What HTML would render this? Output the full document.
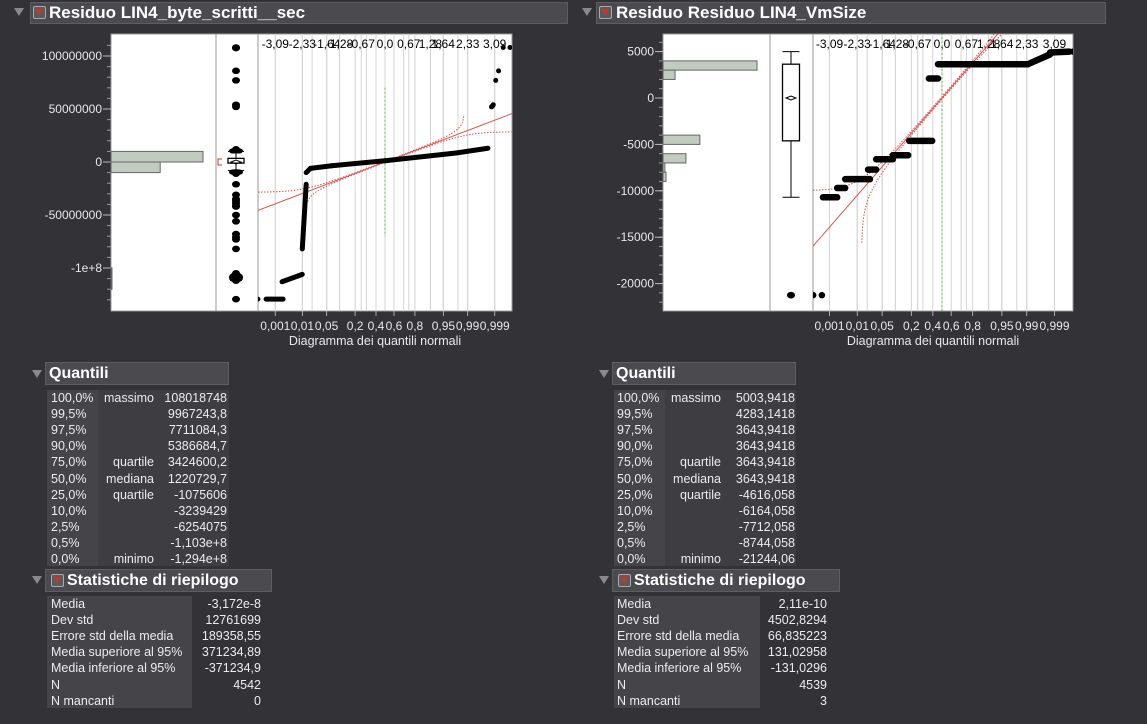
<!DOCTYPE html>
<html><head><meta charset="utf-8">
<style>
body{margin:0;width:1147px;height:724px;background:#333236;font-family:"Liberation Sans",sans-serif;color:#ececec;position:relative;overflow:hidden}
.hdr{position:absolute;background:#4b4a4f;border:1px solid #5e5d62;box-sizing:border-box;font-weight:bold;color:#fff;white-space:nowrap}
.tri{position:absolute;width:0;height:0;border-left:5px solid transparent;border-right:5px solid transparent;border-top:8px solid #8a898e}
.ric{position:absolute;width:13px;height:13px;background:#5b5a5f;border:1px solid #aaa;border-radius:2px;box-sizing:border-box}
.ric:after{content:"";position:absolute;left:1px;top:2px;border-left:4.5px solid transparent;border-right:4.5px solid transparent;border-top:7px solid #c0392b}
.box{position:absolute;background:#3e3d42}
.t{position:absolute;font-size:12.5px;white-space:nowrap;line-height:16px}
.r{text-align:right}
</style></head><body>
<div class="tri" style="left:14px;top:8px"></div>
<div class="hdr" style="left:30px;top:2px;width:538px;height:22px;font-size:17px;line-height:20px;padding-left:18px">Residuo LIN4_byte_scritti__sec</div>
<div class="ric" style="left:33px;top:6px"></div>
<div class="tri" style="left:582px;top:8px"></div>
<div class="hdr" style="left:596px;top:2px;width:510px;height:22px;font-size:17px;line-height:20px;padding-left:19px">Residuo Residuo LIN4_VmSize</div>
<div class="ric" style="left:599px;top:6px"></div>

<svg id="chart" width="1147" height="360" style="position:absolute;left:0;top:0"></svg>

<div class="tri" style="left:32px;top:370px"></div>
<div class="hdr" style="left:45px;top:362px;width:184px;height:23px;font-size:16px;line-height:21px;padding-left:3px">Quantili</div>
<div class="box" style="left:47px;top:390px;width:182px;height:176px"></div>
<div class="box" style="left:47px;top:390px;width:51px;height:176px;background:#454449"></div>
<div id="qL"></div>
<div class="tri" style="left:32px;top:576px"></div>
<div class="hdr" style="left:45px;top:569px;width:227px;height:23px;font-size:16px;line-height:21px;padding-left:21px">Statistiche di riepilogo</div>
<div class="ric" style="left:51px;top:574px"></div>
<div class="box" style="left:47px;top:596px;width:145px;height:112px;background:#454449"></div>
<div id="sL"></div>

<div class="tri" style="left:599px;top:370px"></div>
<div class="hdr" style="left:612px;top:362px;width:184px;height:23px;font-size:16px;line-height:21px;padding-left:3px">Quantili</div>
<div class="box" style="left:614px;top:390px;width:182px;height:176px"></div>
<div class="box" style="left:614px;top:390px;width:51px;height:176px;background:#454449"></div>
<div id="qR"></div>
<div class="tri" style="left:599px;top:576px"></div>
<div class="hdr" style="left:612px;top:569px;width:228px;height:23px;font-size:16px;line-height:21px;padding-left:21px">Statistiche di riepilogo</div>
<div class="ric" style="left:618px;top:574px"></div>
<div class="box" style="left:614px;top:596px;width:146px;height:112px;background:#454449"></div>
<div id="sR"></div>

<script>
// ---------- data ----------
const qPct=["100,0%","99,5%","97,5%","90,0%","75,0%","50,0%","25,0%","10,0%","2,5%","0,5%","0,0%"];
const qLab=["massimo","","","","quartile","mediana","quartile","","","","minimo"];
const qValL=["108018748","9967243,8","7711084,3","5386684,7","3424600,2","1220729,7","-1075606","-3239429","-6254075","-1,103e+8","-1,294e+8"];
const qValR=["5003,9418","4283,1418","3643,9418","3643,9418","3643,9418","3643,9418","-4616,058","-6164,058","-7712,058","-8744,058","-21244,06"];
const sLab=["Media","Dev std","Errore std della media","Media superiore al 95%","Media inferiore al 95%","N","N mancanti"];
const sValL=["-3,172e-8","12761699","189358,55","371234,89","-371234,9","4542","0"];
const sValR=["2,11e-10","4502,8294","66,835223","131,02958","-131,0296","4539","3"];

const zTicks=[-3.09,-2.33,-1.64,-1.28,-0.67,0,0.67,1.28,1.64,2.33,3.09];
const zTickLabels=["-3,09","-2,33","-1,64","-1,28","-0,67","0,0","0,67","1,28","1,64","2,33","3,09"];
const probTicks=[0.001,0.01,0.05,0.2,0.4,0.6,0.8,0.95,0.99,0.999];
const probLabels=["0,001","0,01","0,05","0,2","0,4","0,6","0,8","0,95","0,99","0,999"];
const probGrid=[0.001,0.01,0.02,0.05,0.1,0.2,0.3,0.4,0.5,0.6,0.7,0.8,0.9,0.95,0.98,0.99,0.999];

// left chart
const L_yTicks=[100000000,50000000,0,-50000000,-100000000];
const L_yLabels=["100000000","50000000","0","-50000000","-1e+8"];
const L_binLow=[0,-10000000,-120000000];
const L_binHigh=[10000000,0,-100000000];
const L_binCount=[2900,1550,30];
const L_sd=12761699;
const L_q1=-1075606, L_q3=3424600, L_wLo=-8000000, L_wHi=10000000;
const L_outliers=[108000000,107500000,86000000,77000000,54000000,52000000,12000000,11000000,-10000000,-11000000,-21000000,-31000000,-35000000,-37000000,-39000000,-41000000,-42000000,-50000000,-56000000,-68000000,-71000000,-73000000,-82000000,-105000000,-107000000,-108000000,-110000000,-112000000,-129400000];
const L_segZ0=[-3.58,-3.35,-2.9,-2.33,-2.22,-2.1,-1.5,0,2.0,3.0,3.03,3.12,3.2,3.33,3.52];
const L_segZ1=[-3.58,-2.87,-2.33,-2.22,-2.1,-1.5,0,2.0,2.9,3.0,3.05,3.12,3.2,3.33,3.52];
const L_segV0=[-129400000,-129400000,-113000000,-82000000,-10000000,-6000000,-3500000,1200000,8500000,52000000,53000000,77000000,86000000,108000000,108000000];
const L_segV1=[-129400000,-129400000,-106000000,-21000000,-6000000,-3500000,1200000,8500000,13000000,52000000,54000000,77000000,86000000,108000000,108000000];

// right chart
const R_yTicks=[5000,0,-5000,-10000,-15000,-20000];
const R_yLabels=["5000","0","-5000","-10000","-15000","-20000"];
const R_binLow=[3000,2000,-5000,-7000,-8000,-9000];
const R_binHigh=[4000,3000,-4000,-6000,-7000,-8000];
const R_binCount=[2500,320,980,610,50,80];
const R_sd=4502.8294;
const R_q1=-4616, R_q3=3644, R_wLo=-10700, R_wHi=5004;
const R_outliers=[-21244];
const R_segZ0=[-3.54,-3.3,-3.27,-2.88,-2.66,-2.03,-1.81,-1.35,-0.9,-0.36,-0.11,2.36,2.97,3.6];
const R_segZ1=[-3.54,-3.3,-2.88,-2.66,-1.98,-1.81,-1.35,-0.93,-0.27,-0.11,2.36,2.97,3.5,3.6];
const R_segV0=[-21244,-21244,-10700,-9700,-8744,-7712,-6600,-6164,-4616,2100,3643,3643,4900,5003];
const R_segV1=[-21244,-21244,-10700,-9700,-8744,-7712,-6600,-6164,-4616,2100,3643,4700,5003,5003];

// ---------- helpers ----------
const NS="http://www.w3.org/2000/svg";
const svg=document.getElementById('chart');
function mk(tag,attrs,parent){const e=document.createElementNS(NS,tag);for(const k in attrs)e.setAttribute(k,attrs[k]);(parent||svg).appendChild(e);return e;}
function erf(x){const s=x<0?-1:1;x=Math.abs(x);const t=1/(1+0.3275911*x);const y=1-(((((1.061405429*t-1.453152027)*t)+1.421413741)*t-0.284496736)*t+0.254829592)*t*Math.exp(-x*x);return s*y;}
function Phi(z){return 0.5*(1+erf(z/Math.SQRT2));}
function invPhi(p){let lo=-8,hi=8;for(let i=0;i<60;i++){const m=(lo+hi)/2;if(Phi(m)<p)lo=m;else hi=m;}return (lo+hi)/2;}

function drawChart(c){
  const g=mk('g',{});
  
  
  const Y=v=>c.y0+(v*c.yScale);
  const X=z=>c.zx0+z*c.zs;
  mk('rect',{x:c.left,y:c.top,width:c.right-c.left,height:c.bottom-c.top,fill:'#fff',stroke:'#9a9a9a','stroke-width':1},g);
  for(let v=c.minorStart;v>=c.minorEnd;v-=c.minorStep){const y=Y(v);if(y<c.top||y>c.bottom)continue;mk('line',{x1:c.left-4,x2:c.left,y1:y,y2:y,stroke:'#999'},g);}
  c.yTicks.forEach((v,i)=>{const y=Y(v);mk('line',{x1:c.left-8,x2:c.left,y1:y,y2:y,stroke:'#bbb'},g);
    const t=mk('text',{x:c.left-9,y:y+4,'text-anchor':'end','font-size':12,fill:'#e8e8e8'},g);t.textContent=c.yLabels[i];
    });
  const hs=c.histMax/Math.max(...c.binCount);
  c.binCount.forEach((n,i)=>{const r=mk('rect',{x:c.left,y:Y(c.binHigh[i]),width:Math.max(1,n*hs),height:Y(c.binLow[i])-Y(c.binHigh[i]),fill:'#c2cbbf',stroke:'#666','stroke-width':1},g);
    });
  mk('line',{x1:c.div1,x2:c.div1,y1:c.top,y2:c.bottom,stroke:'#999'},g);
  mk('line',{x1:c.div2,x2:c.div2,y1:c.top,y2:c.bottom,stroke:'#999'},g);
  const bx=c.boxX,bw=c.boxW;
  mk('line',{x1:bx,x2:bx,y1:Y(c.wHi),y2:Y(c.q3),stroke:'#000'},g);
  mk('line',{x1:bx,x2:bx,y1:Y(c.q1),y2:Y(c.wLo),stroke:'#000'},g);
  mk('line',{x1:bx-bw/2,x2:bx+bw/2,y1:Y(c.wHi),y2:Y(c.wHi),stroke:'#000'},g);
  mk('line',{x1:bx-bw/2,x2:bx+bw/2,y1:Y(c.wLo),y2:Y(c.wLo),stroke:'#000'},g);
  const box=mk('rect',{x:bx-bw/2,y:Y(c.q3),width:bw,height:Math.max(3,Y(c.q1)-Y(c.q3)),fill:'#fff',stroke:'#000','stroke-width':1.3},g);
  
  mk('path',{d:`M${bx-5} ${Y(0)} L${bx} ${Y(0)-2} L${bx+5} ${Y(0)} L${bx} ${Y(0)+2}Z`,fill:'none',stroke:'#000'},g);
  if(c.bracket) mk('path',{d:`M${bx-14} ${Y(0)-3}h-4v6h4`,fill:'none',stroke:'#c0392b'},g);
  c.outliers.forEach(v=>{const o=mk('ellipse',{cx:bx,cy:Y(v),rx:4,ry:3.3,fill:'#000'},g);});
  if(c.cluster){mk('rect',{x:bx-7,y:Y(c.cluster[0]),width:14,height:Y(c.cluster[1])-Y(c.cluster[0]),rx:4,fill:'#000'},g);mk('rect',{x:bx-7,y:Y(c.cluster[2]),width:14,height:Y(c.cluster[3])-Y(c.cluster[2]),rx:4,fill:'#000'},g);
    mk('rect',{x:bx-7,y:Y(-1.05e8),width:14,height:Y(-1.13e8)-Y(-1.05e8),rx:4,fill:'#000'},g);}
  probGrid.forEach(p=>{const x=X(invPhi(p));mk('line',{x1:x,x2:x,y1:c.top,y2:c.bottom,stroke:'#d4d4d4'},g);});
  zTicks.forEach((z,i)=>{const x=X(z);mk('line',{x1:x,x2:x,y1:c.top,y2:c.bottom,stroke:'#d4d4d4'},g);
    const t=mk('text',{x:x,y:c.top+14,'text-anchor':'middle','font-size':12,fill:'#000'},g);t.textContent=zTickLabels[i];
    });
  probTicks.forEach((p,i)=>{const x=X(invPhi(p));mk('line',{x1:x,x2:x,y1:c.bottom,y2:c.bottom+5,stroke:'#aaa'},g);
    const t=mk('text',{x:x,y:c.bottom+19,'text-anchor':'middle','font-size':12,fill:'#e8e8e8'},g);t.textContent=probLabels[i];
    });
  const tt=mk('text',{x:(c.div2+c.right)/2-10,y:c.bottom+34,'text-anchor':'middle','font-size':12.5,fill:'#e8e8e8'},g);tt.textContent='Diagramma dei quantili normali';
  
  const cid='clip'+c.name;const cp=mk('clipPath',{id:cid},g);mk('rect',{x:c.div2,y:c.top,width:c.right-c.div2,height:c.bottom-c.top},cp);
  const pg=mk('g',{'clip-path':`url(#${cid})`},g);
  mk('line',{x1:X(0),x2:X(0),y1:Y(c.gTop),y2:Y(c.gBot),stroke:'#5bbf4a','stroke-dasharray':'2,2'},pg);
  const zmin=(c.div2-c.zx0)/c.zs,zmax=(c.right-c.zx0)/c.zs;
  mk('line',{x1:X(zmin),y1:Y(c.sd*zmin),x2:X(zmax),y2:Y(c.sd*zmax),stroke:'#d9534f','stroke-width':1},pg);
  let up='',lo='';
  for(let z=zmin;z<=zmax;z+=0.02){const p=Phi(z);
    if(p+c.d<0.99999){const v=c.sd*invPhi(p+c.d);up+=(up?'L':'M')+X(z).toFixed(1)+' '+Math.max(c.top-50,Y(v)).toFixed(1);}
    if(p-c.d>0.00001){const v=c.sd*invPhi(p-c.d);lo+=(lo?'L':'M')+X(z).toFixed(1)+' '+Math.min(c.bottom+50,Y(v)).toFixed(1);}}
  mk('path',{d:up,fill:'none',stroke:'#d9534f','stroke-dasharray':'1.5,1.5'},pg);
  mk('path',{d:lo,fill:'none',stroke:'#d9534f','stroke-dasharray':'1.5,1.5'},pg);
  c.segZ0.forEach((z0,i)=>{const l=mk('line',{x1:X(z0),y1:Y(c.segV0[i]),x2:X(c.segZ1[i]),y2:Y(c.segV1[i]),stroke:'#000','stroke-width':c.segW,'stroke-linecap':'round'},pg);
    });
}

drawChart({name:'left-chart',left:111,right:512,top:34,bottom:311,div1:216,div2:258,y0:162,yScale:-1.06e-6,
  minorStart:110000000,minorEnd:-130000000,minorStep:10000000,yTicks:L_yTicks,yLabels:L_yLabels,
  binLow:L_binLow,binHigh:L_binHigh,binCount:L_binCount,histMax:92,boxX:236,boxW:16,
  q1:L_q1,q3:L_q3,wLo:L_wLo,wHi:L_wHi,outliers:L_outliers,bracket:true,cluster:[13000000,8000000,-7000000,-12000000],
  zx0:385,zs:35.5,sd:L_sd,d:0.0129,gTop:70000000,gBot:-70000000,
  segZ0:L_segZ0,segZ1:L_segZ1,segV0:L_segV0,segV1:L_segV1,segW:5});
drawChart({name:'right-chart',left:663,right:1073,top:34,bottom:311,div1:770,div2:813,y0:98,yScale:-0.00928,
  minorStart:7000,minorEnd:-23000,minorStep:1000,yTicks:R_yTicks,yLabels:R_yLabels,
  binLow:R_binLow,binHigh:R_binHigh,binCount:R_binCount,histMax:94,boxX:791,boxW:17,
  q1:R_q1,q3:R_q3,wLo:R_wLo,wHi:R_wHi,outliers:R_outliers,bracket:false,cluster:null,
  zx0:942,zs:36.4,sd:R_sd,d:0.0135,gTop:7000,gBot:-23000,
  segZ0:R_segZ0,segZ1:R_segZ1,segV0:R_segV0,segV1:R_segV1,segW:6.5});

function table(id,x0,labR,valR,pct,labs,vals,yStart,name){
  const host=document.getElementById(id);
  pct.forEach((p,i)=>{const y=yStart+i*16.1;
    const a=document.createElement('div');a.className='t';a.style.left=x0+'px';a.style.top=y+'px';a.textContent=p;
    host.appendChild(a);
    if(labs){const b=document.createElement('div');b.className='t r';b.style.left=(labR-80)+'px';b.style.width='80px';b.style.top=y+'px';b.textContent=labs[i];
      host.appendChild(b);}
    const c=document.createElement('div');c.className='t r';c.style.left=(valR-100)+'px';c.style.width='100px';c.style.top=y+'px';c.textContent=vals[i];
    host.appendChild(c);});
}
table('qL',51,154,227,qPct,qLab,qValL,390,'quantile-left');
table('qR',617,721,795,qPct,qLab,qValR,390,'quantile-right');
table('sL',51,0,261,sLab,null,sValL,596,'stat-left');
table('sR',617,0,827,sLab,null,sValR,596,'stat-right');
</script>
</body></html>
